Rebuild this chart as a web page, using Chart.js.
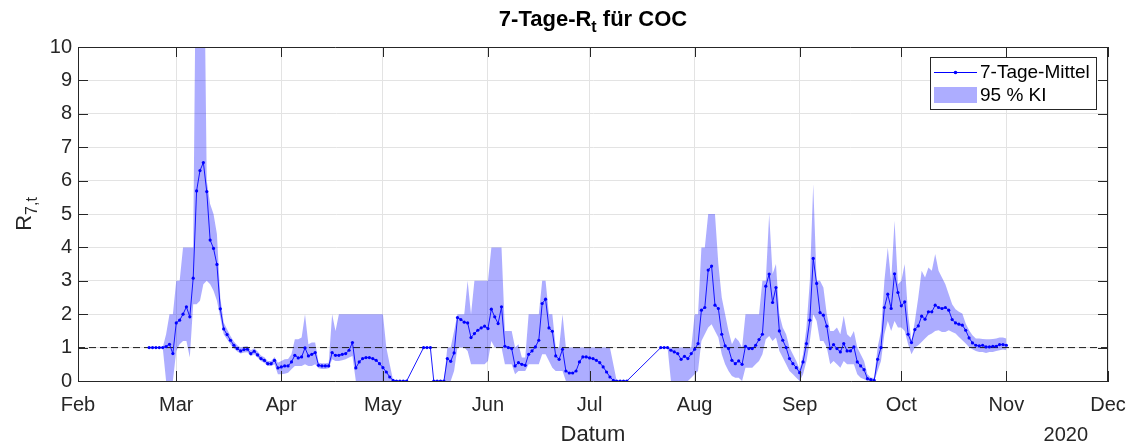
<!DOCTYPE html>
<html>
<head>
<meta charset="utf-8">
<title>7-Tage-Rt für COC</title>
<script src="https://cdn.jsdelivr.net/npm/chart.js@4.4.1/dist/chart.umd.min.js"></script>
<style>
  html, body { margin: 0; padding: 0; background: #fff; }
  #wrap { width: 1131px; height: 445px; }
</style>
</head>
<body>
<div id="wrap"><canvas id="chart" width="1131" height="445"></canvas></div>
<script>
// --- Data: one value per day starting at firstDay, null = no estimate ---
const firstDay = '2020-02-22';
const axisStart = '2020-02-01';
const axisEnd = '2020-12-01';
const refLevel = 1;

const monthTicks = ['2020-02-01', '2020-03-01', '2020-04-01', '2020-05-01', '2020-06-01', '2020-07-01',
                    '2020-08-01', '2020-09-01', '2020-10-01', '2020-11-01', '2020-12-01'];
const monthLabels = ['Feb', 'Mar', 'Apr', 'May', 'Jun', 'Jul', 'Aug', 'Sep', 'Oct', 'Nov', 'Dec'];
const seriesLabels = ['7-Tage-Mittel', '95 % KI'];

const rMean = [
  1.0, 1.0, 1.0, 1.0, 1.0, 1.03, 1.1, 0.82, 1.74, 1.82,
  2.0, 2.22, 1.92, 3.08, 5.69, 6.30, 6.54, 5.67, 4.22, 3.97,
  3.49, 2.16, 1.56, 1.39, 1.22, 1.07, 0.97, 0.90, 0.94, 0.95,
  0.82, 0.89, 0.78, 0.67, 0.62, 0.52, 0.52, 0.62, 0.39, 0.42,
  0.45, 0.45, 0.57, 0.77, 0.69, 0.72, 0.99, 0.75, 0.80, 0.85,
  0.47, 0.45, 0.45, 0.45, 0.85, 0.77, 0.77, 0.80, 0.82, 0.92,
  1.15, 0.39, 0.57, 0.67, 0.70, 0.70, 0.67, 0.62, 0.52, 0.40,
  0.27, 0.12, 0.02, 0, 0, 0, 0, null, null, null,
  null, 1.0, 1.0, 1.0, 0, 0, 0, 0, 0.67, 0.59,
  0.84, 1.90, 1.84, 1.76, 1.74, 1.30, 1.42, 1.52, 1.59, 1.64,
  1.57, 2.15, 1.92, 1.72, 2.22, 1.04, 1.0, 0.97, 0.45, 0.55,
  0.50, 0.47, 0.80, 0.90, 1.02, 1.22, 2.32, 2.45, 1.59, 1.49,
  0.75, 0.65, 0.95, 0.30, 0.24, 0.24, 0.30, 0.57, 0.72, 0.72,
  0.69, 0.67, 0.62, 0.55, 0.42, 0.27, 0.12, 0.02, 0, 0,
  0, 0, null, null, null, null, null, null, null, null,
  null, 1.0, 1.0, 1.0, 0.92, 0.87, 0.82, 0.65, 0.74, 0.67,
  0.82, 0.95, 1.12, 2.12, 2.20, 3.32, 3.44, 2.27, 2.17, 1.40,
  1.05, 0.97, 0.62, 0.52, 0.60, 0.50, 1.04, 0.97, 0.97, 1.07,
  1.24, 1.40, 2.84, 3.20, 2.35, 2.80, 1.50, 1.22, 1.0, 0.67,
  0.52, 0.40, 0.25, 0.57, 1.12, 1.82, 3.67, 2.92, 2.05, 1.97,
  1.64, 0.97, 1.09, 0.97, 0.87, 1.12, 0.90, 0.90, 1.02, 0.57,
  0.45, 0.34, 0.07, 0.04, 0.02, 0.65, 1.0, 2.20, 2.60, 2.17,
  3.21, 2.65, 2.25, 2.37, 1.40, 1.15, 1.54, 1.65, 1.94, 1.85,
  2.07, 2.07, 2.27, 2.20, 2.17, 2.20, 2.12, 1.84, 1.74, 1.70,
  1.67, 1.52, 1.29, 1.14, 1.07, 1.05, 1.07, 1.02, 1.02, 1.04,
  1.04, 1.09, 1.09, 1.07
];

const ciLower = [
  1.0, 1.0, 1.0, 1.0, 1.0, 0, 0, 0, 0.9, 1.1,
  1.2, 1.2, 0.7, 2.3, 2.3, 2.4, 2.9, 3.0, 2.9, 2.7,
  2.4, 1.9, 1.4, 1.25, 1.1, 0.97, 0.88, 0.82, 0.85, 0.86,
  0.74, 0.8, 0.7, 0.6, 0.54, 0.45, 0.45, 0.5, 0.2, 0.2,
  0.22, 0.25, 0.35, 0.45, 0.45, 0.45, 0.5, 0.45, 0.45, 0.5,
  0.38, 0.36, 0.36, 0.38, 0.65, 0.6, 0.6, 0.62, 0.65, 0.7,
  0.75, 0, 0, 0, 0, 0, 0, 0, 0, 0,
  0, 0, 0.02, 0, 0, 0, 0, null, null, null,
  null, 1.0, 1.0, 1.0, 0, 0, 0, 0, 0, 0,
  0.3, 1.0, 1.0, 1.0, 0.9, 0.5, 0.5, 0.5, 0.5, 0.5,
  0.6, 1.2, 1.0, 1.0, 1.0, 0.5, 0.5, 0.5, 0.2, 0.3,
  0.3, 0.3, 0.5, 0.5, 0.5, 0.5, 0.8, 0.8, 0.6, 0.4,
  0.3, 0.3, 0.3, 0, 0, 0, 0, 0, 0, 0,
  0, 0, 0, 0, 0, 0, 0, 0, 0, 0,
  0, 0, null, null, null, null, null, null, null, null,
  null, 1.0, 1.0, 1.0, 0, 0, 0, 0, 0, 0,
  0.1, 0.2, 0.3, 1.2, 1.4, 1.6, 1.7, 1.5, 1.3, 0.8,
  0.5, 0.3, 0.15, 0.1, 0.1, 0, 0.4, 0.4, 0.4, 0.5,
  0.6, 0.8, 1.25, 1.35, 1.2, 1.3, 0.9, 0.7, 0.5, 0.3,
  0.2, 0.1, 0, 0.2, 0.6, 1.2, 2.0, 1.8, 1.2, 1.2,
  1.0, 0.5, 0.6, 0.5, 0.4, 0.6, 0.5, 0.5, 0.5, 0.2,
  0.1, 0.05, 0, 0, 0, 0.3, 0.6, 1.4, 1.8, 1.5,
  1.8, 1.6, 1.6, 1.5, 1.1, 0.8, 1.0, 1.07, 1.17, 1.27,
  1.37, 1.42, 1.5, 1.52, 1.47, 1.47, 1.52, 1.47, 1.42, 1.32,
  1.22, 1.12, 1.02, 0.95, 0.9, 0.87, 0.87, 0.84, 0.87, 0.87,
  0.9, 0.92, 0.94, 0.92
];

const ciUpper = [
  1.0, 1.0, 1.0, 1.0, 1.0, 1.4, 2.0, 2.0, 3.0, 3.0,
  4.0, 4.0, 4.0, 4.0, 15, 15, 15, 6.0, 5.3, 5.0,
  4.4, 2.5, 1.75, 1.55, 1.35, 1.18, 1.07, 1.0, 1.03, 1.05,
  0.92, 0.98, 0.88, 0.76, 0.71, 0.6, 0.6, 0.72, 0.55, 0.6,
  0.65, 0.66, 0.8, 1.25, 1.25, 1.3, 2.0, 1.1, 1.15, 1.15,
  0.55, 0.53, 0.53, 0.55, 2.0, 1.5, 2.0, 2.0, 2.0, 2.0,
  2.0, 2.0, 2.0, 2.0, 2.0, 2.0, 2.0, 2.0, 2.0, 2.0,
  1.0, 0.5, 0.02, 0, 0, 0, 0, null, null, null,
  null, 1.0, 1.0, 1.0, 0, 0, 0, 0, 1.0, 1.0,
  1.5, 2.0, 2.0, 2.0, 3.0, 2.0, 3.0, 3.0, 3.0, 3.0,
  3.0, 4.0, 4.0, 4.0, 4.0, 1.5, 1.5, 1.5, 1.0, 1.1,
  0.7, 0.7, 2.0, 2.0, 2.0, 2.0, 3.0, 3.0, 2.0, 2.0,
  1.0, 1.0, 2.0, 1.0, 1.0, 1.0, 1.0, 1.0, 1.0, 1.0,
  1.0, 1.0, 1.0, 1.0, 1.0, 1.0, 1.0, 0.5, 0, 0,
  0, 0, null, null, null, null, null, null, null, null,
  null, 1.0, 1.0, 1.0, 1.0, 1.0, 1.0, 1.0, 1.0, 1.0,
  1.0, 2.0, 2.0, 4.0, 4.0, 5.0, 5.0, 5.0, 3.5, 2.5,
  2.0, 1.5, 1.1, 1.3, 1.2, 1.0, 2.0, 2.0, 2.0, 2.0,
  2.0, 3.0, 3.0, 5.0, 3.2, 3.5, 2.0, 1.6, 1.4, 1.0,
  0.8, 0.6, 0.35, 0.8, 1.6, 3.0, 5.9, 3.0, 3.0, 2.8,
  2.0, 1.5, 1.5, 1.6, 1.4, 1.95, 1.4, 1.3, 1.5, 1.0,
  0.8, 0.6, 0.2, 0.1, 0.1, 1.0, 1.5, 3.0, 4.0, 3.0,
  4.8, 2.9, 3.0, 3.5, 2.0, 1.2, 1.8, 2.5, 3.3, 3.1,
  3.4, 3.3, 3.8, 3.3, 3.1, 2.9, 2.6, 2.3, 2.15, 2.07,
  2.02, 1.72, 1.52, 1.37, 1.27, 1.27, 1.26, 1.25, 1.25, 1.26,
  1.27, 1.3, 1.3, 1.27
];

// --- Helpers ---
const DAY_MS = 86400000;
const dayIndex = (iso) => Math.round((Date.parse(iso) - Date.parse(axisStart)) / DAY_MS);
const offset = dayIndex(firstDay);
const toPoints = (arr) => arr.map((v, i) => ({ x: offset + i, y: v }));

const lineColor = '#0000ff';
const bandColor = 'rgba(0, 0, 255, 0.32)';
const axisColor = '#262626';
const FONT = '"Liberation Sans", Arial, Helvetica, sans-serif';

// text with subscript parts: [[text, isSub], ...]
function drawParts(ctx, parts, x, y, size, weight) {
    const subSize = Math.round(size * 0.72);
    const widths = parts.map(([t, sub]) => {
        ctx.font = `${weight} ${sub ? subSize : size}px ${FONT}`;
        return ctx.measureText(t).width;
    });
    let cx = x - widths.reduce((a, b) => a + b, 0) / 2;
    parts.forEach(([t, sub], i) => {
        ctx.font = `${weight} ${sub ? subSize : size}px ${FONT}`;
        ctx.fillText(t, cx, sub ? y + size * 0.25 : y);
        cx += widths[i];
    });
}

// --- Frame: box, inner ticks, title, axis labels, legend ---
const framePlugin = {
    id: 'matlabFrame',
    afterDraw(chart) {
        const { ctx, chartArea: a, scales: { x, y } } = chart;
        ctx.save();
        ctx.strokeStyle = axisColor;
        ctx.lineWidth = 1;
        ctx.beginPath();
        ctx.moveTo(a.left, a.top + 0.5); ctx.lineTo(a.right, a.top + 0.5);
        ctx.moveTo(a.right - 0.5, a.top); ctx.lineTo(a.right - 0.5, a.bottom);
        const tl = 10;
        x.ticks.forEach(t => {
            const px = Math.round(x.getPixelForValue(t.value)) + 0.5;
            ctx.moveTo(px, a.bottom); ctx.lineTo(px, a.bottom - tl);
            ctx.moveTo(px, a.top); ctx.lineTo(px, a.top + tl);
        });
        y.ticks.forEach(t => {
            const py = Math.round(y.getPixelForValue(t.value)) + 0.5;
            ctx.moveTo(a.left, py); ctx.lineTo(a.left + tl, py);
            ctx.moveTo(a.right, py); ctx.lineTo(a.right - tl, py);
        });
        ctx.stroke();

        // title
        ctx.fillStyle = '#000';
        ctx.textBaseline = 'alphabetic';
        ctx.textAlign = 'left';
        drawParts(ctx, [['7-Tage-R', false], ['t', true], [' für COC', false]], (a.left + a.right) / 2, 26, 22, 'bold');

        // x label + year
        ctx.fillStyle = axisColor;
        drawParts(ctx, [['Datum', false]], (a.left + a.right) / 2, 441, 22, 'normal');
        ctx.font = `20px ${FONT}`;
        ctx.textAlign = 'right';
        ctx.fillText('2020', a.right - 20, 441);
        ctx.textAlign = 'left';

        // y label, rotated
        ctx.save();
        ctx.translate(31, (a.top + a.bottom) / 2);
        ctx.rotate(-Math.PI / 2);
        drawParts(ctx, [['R', false], ['7,t', true]], 0, 0, 22, 'normal');
        ctx.restore();

        // legend box
        const w = 166, h = 52;
        const left = a.right - 12 - w, top = a.top + 10;
        ctx.fillStyle = '#fff';
        ctx.fillRect(left, top, w, h);
        ctx.strokeStyle = axisColor;
        ctx.strokeRect(left + 0.5, top + 0.5, w, h);
        const y1 = top + 15, y2 = top + 38;
        ctx.strokeStyle = lineColor;
        ctx.beginPath();
        ctx.moveTo(left + 4, y1 + 0.5); ctx.lineTo(left + 47, y1 + 0.5);
        ctx.stroke();
        ctx.fillStyle = lineColor;
        ctx.beginPath();
        ctx.arc(left + 25.5, y1 + 0.5, 1.8, 0, Math.PI * 2);
        ctx.fill();
        ctx.fillStyle = bandColor;
        ctx.fillRect(left + 4, y2 - 8, 43, 16);
        ctx.fillStyle = '#000';
        ctx.font = `19px ${FONT}`;
        ctx.textBaseline = 'middle';
        ctx.fillText(seriesLabels[0], left + 50, y1 + 1);
        ctx.fillText(seriesLabels[1], left + 50, y2 + 1);
        ctx.restore();
    }
};

const chart = new Chart(document.getElementById('chart'), {
    type: 'line',
    data: {
        datasets: [
            {
                label: seriesLabels[0],
                data: toPoints(rMean),
                borderColor: lineColor,
                borderWidth: 0.9,
                pointRadius: 1.6,
                pointBackgroundColor: lineColor,
                pointBorderWidth: 0,
                spanGaps: true,
                fill: false,
                order: 0
            },
            {
                label: 'ref',
                data: [{ x: 0, y: refLevel }, { x: dayIndex(axisEnd), y: refLevel }],
                borderColor: '#1a1a1a',
                borderWidth: 1,
                borderDash: [7, 4],
                pointRadius: 0,
                fill: false,
                order: 1
            },
            {
                label: seriesLabels[1],
                data: toPoints(ciUpper),
                borderWidth: 0,
                borderColor: 'rgba(0,0,0,0)',
                backgroundColor: bandColor,
                pointRadius: 0,
                spanGaps: false,
                fill: '+1',
                order: 2
            },
            {
                label: 'lower',
                data: toPoints(ciLower),
                borderWidth: 0,
                borderColor: 'rgba(0,0,0,0)',
                pointRadius: 0,
                spanGaps: false,
                fill: false,
                order: 3
            }
        ]
    },
    options: {
        responsive: false,
        animation: false,
        devicePixelRatio: 1,
        events: [],
        layout: { padding: { top: 47, right: 23, left: 0, bottom: 0 } },
        plugins: {
            legend: { display: false },
            title: { display: false },
            tooltip: { enabled: false }
        },
        scales: {
            x: {
                type: 'linear',
                min: 0,
                max: dayIndex(axisEnd),
                afterFit: (s) => {
                    s.height = 64;
                    // month labels may hang over the edges, keep the plot box fixed
                    s.paddingLeft = 0;
                    s.paddingRight = 0;
                },
                afterBuildTicks: (s) => { s.ticks = monthTicks.map(d => ({ value: dayIndex(d) })); },
                ticks: {
                    autoSkip: false,
                    maxRotation: 0,
                    padding: 12,
                    color: axisColor,
                    font: { family: FONT, size: 20 },
                    callback: (value, index) => monthLabels[index]
                },
                grid: { color: '#e3e3e3', drawTicks: false },
                border: { display: true, color: axisColor, width: 1 }
            },
            y: {
                min: 0,
                max: 10,
                afterFit: (s) => { s.width = 78; },
                ticks: {
                    stepSize: 1,
                    padding: 6,
                    color: axisColor,
                    font: { family: FONT, size: 20 }
                },
                grid: { color: '#e3e3e3', drawTicks: false },
                border: { display: true, color: axisColor, width: 1 }
            }
        }
    },
    plugins: [framePlugin]
});
</script>
</body>
</html>
